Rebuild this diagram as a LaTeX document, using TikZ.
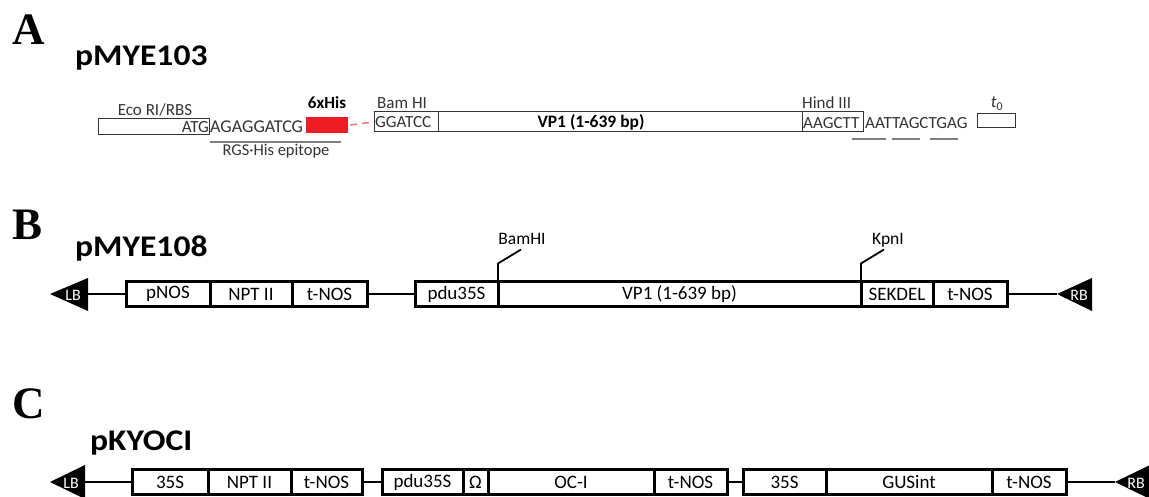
\documentclass[tikz,border=0pt]{standalone}
\usepackage{fontspec}
\setmainfont{Carlito}
\newfontfamily\letterfont{Liberation Serif}
\newcommand\myfs[1]{\fontsize{#1}{#1}\selectfont}
\definecolor{hisred}{HTML}{EE1C25}
\definecolor{dashred}{HTML}{F07C7C}
\definecolor{seqgray}{HTML}{333338}
\begin{document}
\begin{tikzpicture}[x=1pt,y=-1pt,
  panel/.style={font=\letterfont\bfseries\myfs{45}, anchor=base west, inner sep=0},
  title/.style={font=\bfseries\myfs{30}, anchor=base west, inner sep=0},
  seqA/.style={font=\myfs{17}, text=seqgray, inner sep=0},
  boxA/.style={draw=seqgray, line width=1pt, inner sep=0, outer sep=0},
  gene/.style={draw, line width=3pt, fill=white, minimum height=25pt, inner sep=0, outer sep=0, font=\myfs{19}},
  conn/.style={line width=1.8pt},
  tri/.style={fill=black},
  btext/.style={text=white, font=\myfs{16}, inner sep=0},
  site/.style={font=\myfs{17.5}, inner sep=0, anchor=base},
  siteline/.style={line width=1.8pt}
]
\useasboundingbox (0,0) rectangle (1149,497);

% ---------------- Panel A ----------------
\node[panel] (la) at (12,45) {A};
\node[title] (ta) at (75,66) {\scalebox{1.12}[1]{pMYE103}};

\node[boxA, minimum width=111, minimum height=16, anchor=north west] (eco) at (98,119) {};
\node[seqA, anchor=base east] (atg) at (209,133) {ATG};
\node[seqA, anchor=base] (ecolab) at (155,116) {Eco RI/RBS};
\node[seqA, anchor=base west, font=\myfs{18}] (rgsseq) at (210,133) {AGAGGATCG};
\draw[draw=black!50, line width=1.5pt] (210,142) coordinate (ul1) -- (341,142) coordinate (ul2);
\node[seqA, anchor=base, font=\myfs{16.5}] (rgslab) at (276,156) {RGS·His epitope};
\node[fill=hisred, minimum width=42, minimum height=16, inner sep=0, outer sep=0, anchor=north west] (his) at (306,117) {};
\node[seqA, anchor=base, font=\bfseries\myfs{17}, text=black] (hislab) at (327,109) {6xHis};

\node[boxA, minimum width=64, minimum height=20, anchor=north west] (gga) at (374,112) {};
\node[seqA, anchor=base west] (ggatxt) at (375,128) {GGATCC};
\draw[dashred, line width=1.6pt, dash pattern=on 7pt off 5pt] (his.east) ++(2,0) -- (gga.west);
\node[boxA, minimum width=364, minimum height=20, anchor=north west] (vpa) at (438,112) {};
\node[seqA, font=\bfseries\myfs{17.5}, text=black, anchor=base] (vpatxt) at (591,128) {VP1 (1-639 bp)};
\node[seqA, anchor=base west] (bamlab) at (377,109) {Bam HI};
\node[boxA, minimum width=61, minimum height=20, anchor=north west] (hind) at (802,112) {};
\node[seqA, anchor=base west] (aagtxt) at (803,129) {AAGCTT};
\node[seqA, anchor=base west] (hindlab) at (802,109) {Hind III};
\node[seqA, anchor=base west] (stoptxt) at (865,129) {AATTAGCTGAG};
\draw[draw=black!50, line width=1.3pt] (852,139) -- (886,139);
\draw[draw=black!50, line width=1.3pt] (892,139) -- (920,139);
\draw[draw=black!50, line width=1.3pt] (930,139) -- (958,139);
\node[boxA, minimum width=38, minimum height=14, anchor=north west] (tzero) at (977,114) {};
\node[seqA, anchor=base] (tzlab) at (997,108) {\itshape t\textsubscript{\upshape 0}};

% ---------------- Panel B ----------------
\node[panel] (lb) at (12,240) {B};
\node[title] (tb) at (75,257) {\scalebox{1.12}[1]{pMYE108}};

\fill[tri] (50,294) -- (88,278) -- (88,311) -- cycle;
\coordinate (lbB) at (88,294);
\node[btext] (lbBt) at (73,295) {LB};
\fill[tri] (1057,294) -- (1092,278) -- (1092,311) -- cycle;
\coordinate (rbB) at (1057,294);
\node[btext] (rbBt) at (1079,295) {RB};

\node[gene, minimum width=84] (pnos) at (168,294) {pNOS};
\node[gene, minimum width=82] (nptB) at (251,294) {NPT II};
\node[gene, minimum width=75] (tnosB1) at (329.5,294) {t-NOS};
\node[gene, minimum width=83] (pduB) at (456.5,294) {pdu35S};
\node[gene, minimum width=363] (vpB) at (679.5,294) {VP1 (1-639 bp)};
\node[gene, minimum width=72] (sek) at (897,294) {SEKDEL};
\node[gene, minimum width=74] (tnosB2) at (970,294) {t-NOS};

\draw[conn] (lbB) -- (pnos.west);
\draw[conn] (tnosB1.east) -- (pduB.west);
\draw[conn] (tnosB2.east) -- (rbB);

\draw[siteline] (vpB.north west) -- ++(0,-18) -- ++(23,-14);
\node[site] (bamB) at (522,245) {BamHI};
\draw[siteline] (sek.north west) -- ++(0,-18) -- ++(23,-14);
\node[site] (kpnB) at (888,244) {KpnI};

% ---------------- Panel C ----------------
\node[panel] (lc) at (12,418) {C};
\node[title] (tc) at (90,450) {\scalebox{1.12}[1]{pKYOCI}};

\fill[tri] (50,482) -- (85,465) -- (85,499) -- cycle;
\coordinate (lbC) at (85,482);
\node[btext] (lbCt) at (71,483) {LB};
\fill[tri] (1115,482) -- (1150,465) -- (1150,499) -- cycle;
\coordinate (rbC) at (1115,482);
\node[btext] (rbCt) at (1136,483) {RB};

\node[gene, minimum width=76] (s35a) at (170,482) {35S};
\node[gene, minimum width=83] (nptC) at (249.5,482) {NPT II};
\node[gene, minimum width=71] (tnosC1) at (326.5,482) {t-NOS};
\node[gene, minimum width=81] (pduC) at (422.5,482) {pdu35S};
\node[gene, minimum width=25] (omega) at (475.5,482) {Ω};
\node[gene, minimum width=166] (oci) at (571,482) {OC-I};
\node[gene, minimum width=73] (tnosC2) at (690.5,482) {t-NOS};
\node[gene, minimum width=83] (s35b) at (784.5,482) {35S};
\node[gene, minimum width=166] (gus) at (909,482) {GUSint};
\node[gene, minimum width=74] (tnosC3) at (1029,482) {t-NOS};

\draw[conn] (lbC) -- (s35a.west);
\draw[conn] (tnosC1.east) -- (pduC.west);
\draw[conn] (tnosC2.east) -- (s35b.west);
\draw[conn] (tnosC3.east) -- (rbC);
\end{tikzpicture}
\end{document}
